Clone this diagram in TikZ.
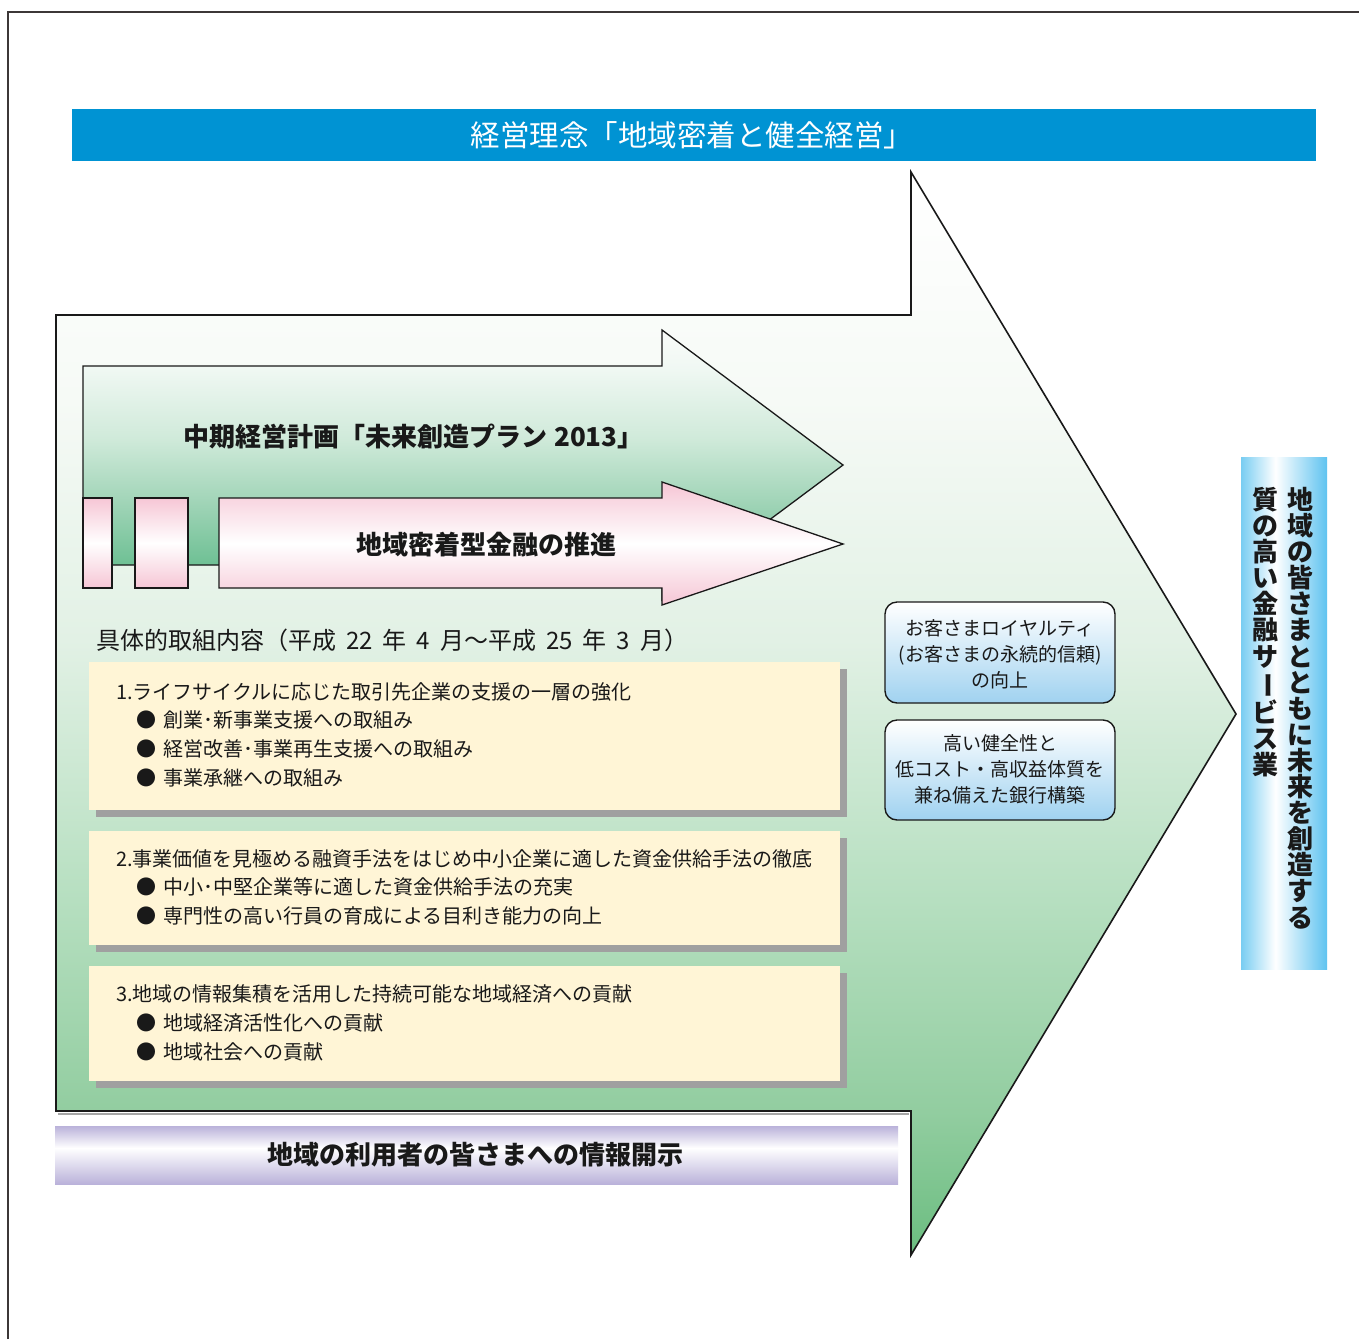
\documentclass[tikz,border=0pt]{standalone}
\usepackage{fontspec}
\usepackage{graphicx}
\setmainfont{Noto Sans CJK JP}
\definecolor{titleblue}{RGB}{0,147,211}
\definecolor{gA}{RGB}{107,189,128}
\definecolor{gB}{RGB}{146,205,160}
\definecolor{gC}{RGB}{182,223,192}
\definecolor{gD}{RGB}{226,241,229}
\definecolor{gE}{RGB}{246,250,246}
\definecolor{mA}{RGB}{100,186,140}
\definecolor{mB}{RGB}{110,192,148}
\definecolor{mC}{RGB}{160,212,183}
\definecolor{mD}{RGB}{208,234,218}
\definecolor{mE}{RGB}{240,248,243}
\definecolor{mF}{RGB}{250,252,250}
\definecolor{pk}{RGB}{246,198,213}
\definecolor{vbA}{RGB}{120,205,242}
\definecolor{vbB}{RGB}{95,195,240}
\definecolor{lv}{RGB}{186,178,218}
\definecolor{boxblue}{RGB}{160,210,240}
\definecolor{boxyellow}{RGB}{255,245,214}
\definecolor{shadowgray}{RGB}{160,160,160}
\definecolor{framegray}{RGB}{60,55,55}
\pgfdeclareverticalshading{bigarrowshade}{100bp}{color(0bp)=(gA); color(25bp)=(gA); color(31.6bp)=(gB); color(41.4bp)=(gC); color(53.4bp)=(gD); color(64.5bp)=(gE); color(75bp)=(white); color(100bp)=(white)}
\pgfdeclareverticalshading{midarrowshade}{100bp}{color(0bp)=(mA); color(25bp)=(mA); color(31.5bp)=(mB); color(43bp)=(mC); color(55bp)=(mD); color(68bp)=(mE); color(75bp)=(mF); color(100bp)=(mF)}
\pgfdeclareverticalshading{pinkshade}{100bp}{color(0bp)=(pk); color(25bp)=(pk); color(50bp)=(white); color(75bp)=(pk); color(100bp)=(pk)}
\pgfdeclarehorizontalshading{vbarshade}{100bp}{color(0bp)=(vbA); color(25bp)=(vbA); color(45bp)=(white); color(75bp)=(vbB); color(100bp)=(vbB)}
\pgfdeclareverticalshading{lavshade}{100bp}{color(0bp)=(lv); color(25bp)=(lv); color(56bp)=(white); color(75bp)=(lv); color(100bp)=(lv)}
\tikzset{
  outline/.style={draw=black!90, line width=1.6pt, line join=miter},
  txt/.style={inner sep=0pt, text=black!90},
  boxtxt/.style={txt, anchor=west, font=\fontsize{20}{20}\selectfont},
  bluebox/.style={draw=black!90, line width=1.4pt, rounded corners=12pt, top color=white, bottom color=boxblue},
  ybox/.style={fill=boxyellow},
  yshadow/.style={fill=shadowgray},
  vtxt/.style={txt, anchor=north, align=center, font=\fontsize{26}{26.1}\selectfont\bfseries},
}
\newcommand{\blt}{●\hspace{7pt}}
\newcommand{\gp}{\hspace{10pt}}
\begin{document}
\begin{tikzpicture}[x=1pt,y=-1pt]
\useasboundingbox (0,0) rectangle (1359,1339);
\fill[white] (0,0) rectangle (1359,1339);
% frame
\draw[framegray, line width=1.5pt] (8,1339) -- (8,12) -- (1359,12);
% title bar
\fill[titleblue] (72,109) rectangle (1316,161);
\node[txt, text=white, font=\fontsize{29.5}{29.5}\selectfont] (title) at (692,135) {経営理念「地域密着と健全経営」};
% big arrow
\draw[black!35, line width=2pt] (58,1114) -- (909,1114);
\path[outline, shading=bigarrowshade] (56,315) -- (911,315) -- (911,172) -- (1236,714) -- (911,1255) -- (911,1111) -- (56,1111) -- cycle;
% medium green arrow
\path[outline, line width=1.3pt, shading=midarrowshade] (83,366) -- (662,366) -- (662,330) -- (843,465) -- (662,600) -- (662,565) -- (83,565) -- cycle;
% pink arrow and blocks
\path[outline, line width=1.3pt, shading=pinkshade] (219,498) -- (662,498) -- (662,482) -- (843,544) -- (662,605) -- (662,588) -- (219,588) -- cycle;
\path[outline, line width=1.3pt, shading=pinkshade] (83,498) rectangle (112,588);
\path[outline, line width=1.3pt, shading=pinkshade] (135,498) rectangle (188,588);
\node[txt, anchor=west, font=\fontsize{26}{26}\selectfont\bfseries] (plan) at (183,437) {中期経営計画「未来創造プラン\hspace{7pt}2013」};
\node[txt, anchor=west, font=\fontsize{26}{26}\selectfont\bfseries] (suishin) at (356,545) {地域密着型金融の推進};
% period heading
\node[txt, anchor=west, font=\fontsize{24}{24}\selectfont] (period) at (96,640) {具体的取組内容（平成\gp 22\gp 年\gp 4\gp 月～平成\gp 25\gp 年\gp 3\gp 月）};
% yellow boxes
\fill[yshadow] (96,669) rectangle (847,817);
\fill[ybox] (89,662) rectangle (840,810);
\fill[yshadow] (96,838) rectangle (847,952);
\fill[ybox] (89,831) rectangle (840,945);
\fill[yshadow] (96,973) rectangle (847,1088);
\fill[ybox] (89,966) rectangle (840,1081);
\node[boxtxt] (b1h) at (116,692) {1.ライフサイクルに応じた取引先企業の支援の一層の強化};
\node[boxtxt] (b1a) at (136,720) {\blt 創業･新事業支援への取組み};
\node[boxtxt] (b1b) at (136,749) {\blt 経営改善･事業再生支援への取組み};
\node[boxtxt] (b1c) at (136,778) {\blt 事業承継への取組み};
\node[boxtxt] (b2h) at (116,859) {2.事業価値を見極める融資手法をはじめ中小企業に適した資金供給手法の徹底};
\node[boxtxt] (b2a) at (136,887) {\blt 中小･中堅企業等に適した資金供給手法の充実};
\node[boxtxt] (b2b) at (136,916) {\blt 専門性の高い行員の育成による目利き能力の向上};
\node[boxtxt] (b3h) at (116,994) {3.地域の情報集積を活用した持続可能な地域経済への貢献};
\node[boxtxt] (b3a) at (136,1023) {\blt 地域経済活性化への貢献};
\node[boxtxt] (b3b) at (136,1052) {\blt 地域社会への貢献};
% blue rounded boxes
\path[bluebox] (885,602) rectangle (1115,703);
\node[txt, align=center, font=\fontsize{19}{26}\selectfont] (loyal) at (1000,654) {お客さまロイヤルティ\\(お客さまの永続的信頼)\\の向上};
\path[bluebox] (885,720) rectangle (1115,820);
\node[txt, align=center, font=\fontsize{19}{26}\selectfont] (kenzen) at (1000,769) {高い健全性と\\低コスト・高収益体質を\\兼ね備えた銀行構築};
% vertical bar
\path[shading=vbarshade] (1241,457) rectangle (1327,969);
\node[vtxt] (vright) at (1300,487) {地\\域\\の\\皆\\さ\\ま\\と\\と\\も\\に\\未\\来\\を\\創\\造\\す\\る};
\node[vtxt] (vleft) at (1265,487) {質\\の\\高\\い\\金\\融\\サ\\\rotatebox[origin=c]{-90}{ー}\\ビ\\ス\\業};
% bottom lavender bar
\path[shading=lavshade] (55,1126) rectangle (898,1184);
\node[txt, font=\fontsize{26}{26}\selectfont\bfseries] (kaiji) at (475,1155) {地域の利用者の皆さまへの情報開示};
\end{tikzpicture}
\end{document}
